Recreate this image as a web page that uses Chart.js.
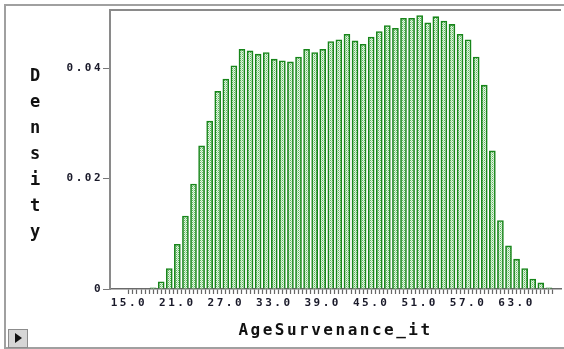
<!DOCTYPE html>
<html>
<head>
<meta charset="utf-8">
<script src="https://cdn.jsdelivr.net/npm/chart.js@4.4.1/dist/chart.umd.min.js"></script>
<style>
  body { margin: 0; background: #fff; overflow: hidden; }
  #wrap { position: absolute; left: 0; top: 0; width: 564px; height: 349px; }
  #frame { position: absolute; left: 4px; top: 4px; width: 620px; height: 341px;
           border: 2px solid #a0a0a0; pointer-events: none; }
  #play { position: absolute; left: 8px; top: 329px; width: 18px; height: 17px;
          background: #d6d6d6; border: 1px solid #8c8c8c; }
  #play:after { content: ""; position: absolute; left: 6px; top: 3px;
          border-left: 7px solid #111; border-top: 5.5px solid transparent;
          border-bottom: 5.5px solid transparent; }
</style>
</head>
<body>
<div id="wrap"><canvas id="chart1"></canvas></div>
<div id="frame"></div>
<div id="play"></div>
<script>
// histogram of AgeSurvenance_it

var ages = [18, 19, 20, 21, 22, 23, 24, 25, 26, 27, 28, 29, 30, 31, 32, 33, 34,
            35, 36, 37, 38, 39, 40, 41, 42, 43, 44, 45, 46, 47, 48, 49, 50, 51,
            52, 53, 54, 55, 56, 57, 58, 59, 60, 61, 62, 63, 64, 65, 66, 67];
var density = [0.0002, 0.0013, 0.0037, 0.0081, 0.0132, 0.0190, 0.0259, 0.0304,
               0.0358, 0.0380, 0.0404, 0.0434, 0.0431, 0.0425, 0.0428, 0.0416,
               0.0413, 0.0411, 0.0420, 0.0434, 0.0428, 0.0434, 0.0448, 0.0451,
               0.0461, 0.0449, 0.0443, 0.0456, 0.0466, 0.0477, 0.0472, 0.0490,
               0.0490, 0.0495, 0.0482, 0.0493, 0.0485, 0.0479, 0.0461, 0.0451,
               0.0420, 0.0369, 0.0250, 0.0124, 0.0078, 0.0054, 0.0037, 0.0018,
               0.0011, 0.0002];
var xLabels = [15, 21, 27, 33, 39, 45, 51, 57, 63];
var yTicks = [0, 0.02, 0.04];
var yTitle = 'Density';
var xTitle = 'AgeSurvenance_it';

// dotted light green fill like the original
var pc = document.createElement('canvas');
pc.width = 2; pc.height = 2;
var p = pc.getContext('2d');
p.fillStyle = '#e4f3e4'; p.fillRect(0, 0, 2, 2);
p.fillStyle = '#5cb85c'; p.fillRect(0, 0, 1, 1);
p.fillStyle = '#a6d8a6'; p.fillRect(1, 1, 1, 1);
var fill = p.createPattern(pc, 'repeat');

var points = ages.map(function (a, i) { return { x: a, y: density[i] }; });

var extras = {
  id: 'extras',
  beforeDraw: function (chart) {
    chart.ctx.letterSpacing = '2.5px';
  },
  afterDraw: function (chart) {
    var ctx = chart.ctx, a = chart.chartArea;
    ctx.save();
    ctx.strokeStyle = '#8a8a8a';
    ctx.lineWidth = 2;
    ctx.beginPath();
    ctx.moveTo(a.left - 1, a.top);
    ctx.lineTo(a.right, a.top);
    ctx.stroke();
    ctx.letterSpacing = '0px';
    ctx.fillStyle = '#111';
    ctx.font = 'bold 17px "DejaVu Sans Mono"';
    ctx.textAlign = 'center';
    ctx.textBaseline = 'middle';
    for (var i = 0; i < yTitle.length; i++) {
      ctx.fillText(yTitle[i], 35, 77 + i * 26);
    }
    ctx.restore();
  }
};

var graph = document.getElementById('chart1');

var myChart = new Chart(graph, {
  type: 'bar',
  data: {
    datasets: [{
      data: points,
      backgroundColor: fill,
      borderColor: '#17851a',
      borderWidth: 1.6,
      borderSkipped: 'bottom',
      barThickness: 6
    }]
  },
  options: {
    responsive: true,
    maintainAspectRatio: false,
    animation: false,
    layout: { padding: { top: 10, right: 0, left: 0, bottom: 0 } },
    plugins: {
      legend: { display: false },
      tooltip: { enabled: false }
    },
    scales: {
      x: {
        type: 'linear',
        offset: false,
        min: 12.66,
        max: 68.5,
        afterFit: function (s) { s.height = 60; },
        border: { display: true, color: '#6a6a6a', width: 1.5 },
        grid: {
          offset: false,
          drawOnChartArea: false,
          tickLength: 5,
          tickWidth: 1.2,
          tickColor: function (c) {
            var v = c.tick ? c.tick.value : 0;
            return (v >= 15 && v <= 67.5) ? '#666' : 'rgba(0,0,0,0)';
          }
        },
        ticks: {
          stepSize: 0.5,
          autoSkip: false,
          includeBounds: false,
          maxRotation: 0,
          minRotation: 0,
          padding: 3,
          color: '#1a1a2a',
          font: { family: 'DejaVu Sans Mono', size: 11, weight: 'bold' },
          callback: function (v) {
            return xLabels.indexOf(v) >= 0 ? v.toFixed(1) : '';
          }
        },
        title: {
          display: true,
          text: xTitle,
          color: '#111',
          font: { family: 'DejaVu Sans Mono', size: 16, weight: 'bold' },
          padding: { top: 0, bottom: 9 }
        }
      },
      y: {
        min: 0,
        max: 0.0505,
        afterFit: function (s) { s.width = 110; },
        afterBuildTicks: function (s) {
          s.ticks = yTicks.map(function (v) { return { value: v }; });
        },
        border: { display: true, color: '#8a8a8a', width: 2 },
        grid: {
          drawOnChartArea: false,
          tickLength: 7,
          color: '#777'
        },
        ticks: {
          padding: 0,
          color: '#1a1a2a',
          font: { family: 'DejaVu Sans Mono', size: 11, weight: 'bold' },
          callback: function (v) { return v === 0 ? '0' : v.toFixed(2); }
        }
      }
    }
  },
  plugins: [extras]
});
</script>
</body>
</html>
